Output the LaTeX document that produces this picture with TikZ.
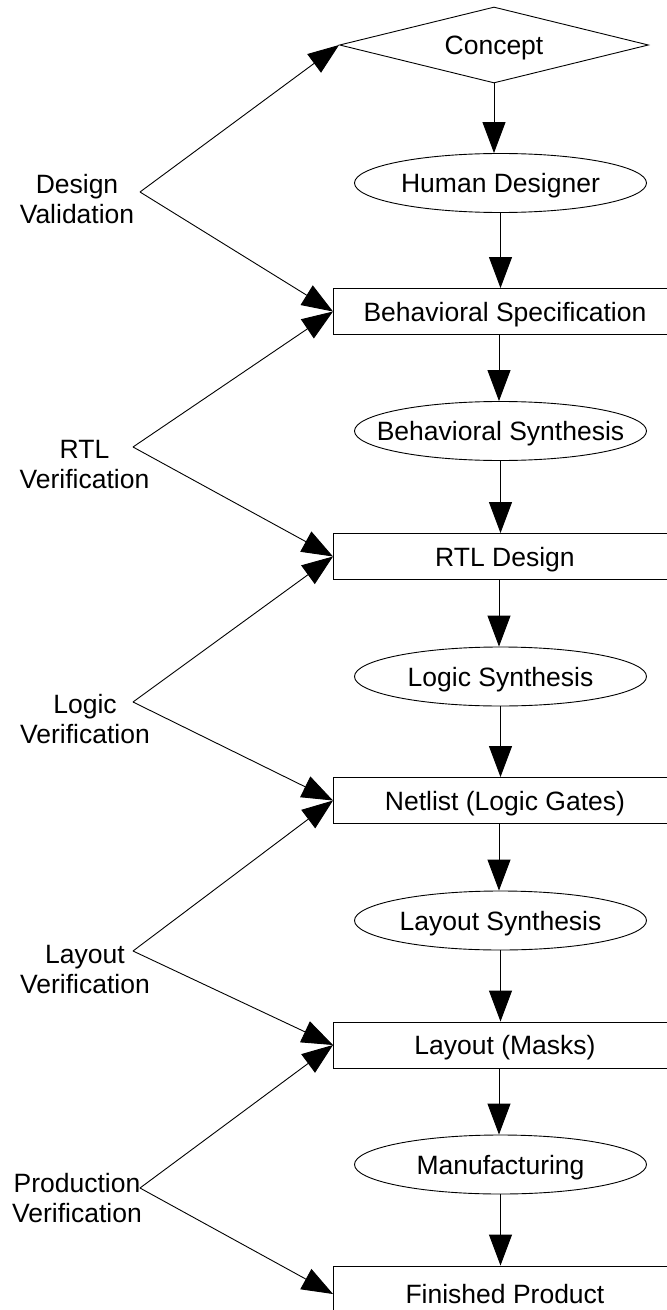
\documentclass[tikz,border=0pt]{standalone}
\usepackage{fontspec}
\setmainfont{Liberation Sans}
\usetikzlibrary{shapes.geometric,arrows.meta}
\begin{document}
\begin{tikzpicture}[x=1bp,y=-1bp,
  every node/.style={font=\fontsize{26.5bp}{30bp}\selectfont},
  capcentre/.style={text height=19bp, text depth=0bp},
  every label/.style={capcentre},
  boxnode/.style={draw, capcentre, line width=0.9bp, minimum width=343bp, minimum height=46bp, inner sep=0pt, anchor=west},
  ellnode/.style={draw, ellipse, line width=0.9bp, minimum width=292bp, minimum height=59bp, inner sep=0pt},
  decnode/.style={draw, diamond, capcentre, aspect=4.08, line width=0.9bp, minimum width=309bp, minimum height=76bp, inner sep=0pt},
  sidelabel/.style={align=center, anchor=base, inner sep=0pt},
  arr/.style={line width=0.9bp, -{Triangle[length=31bp,width=23bp]}},
]
\useasboundingbox (0,0) rectangle (666,1310);

% main column
\node[decnode] (con) at (494,45) {Concept};
\node[ellnode, label={center:Human Designer}] (hd) at (500.5,183) {};
\node[boxnode] (bs) at (333,311.5) {Behavioral Specification};
\node[ellnode, label={center:Behavioral Synthesis}] (bsy) at (500.5,431) {};
\node[boxnode] (rtl) at (333,556.5) {RTL Design};
\node[ellnode, label={center:Logic Synthesis}] (ls) at (500.5,676.5) {};
\node[boxnode] (net) at (333,800.5) {Netlist (Logic Gates)};
\node[ellnode, label={center:Layout Synthesis}] (lys) at (500.5,920.5) {};
\node[boxnode] (lay) at (333,1045) {Layout (Masks)};
\node[ellnode, label={center:Manufacturing}] (man) at (500.5,1164.5) {};
\node[boxnode, minimum height=56bp] (fp) at (333,1294) {Finished Product};

% vertical arrows
\draw[arr] (con.south) -- (con.south |- hd.north);
\draw[arr] (hd.south) -- (hd.south |- bs.north);
\draw[arr] (bs.south -| bsy.north) ++(-1.5,0) coordinate (b1) -- (b1 |- bsy.north);
\draw[arr] (bsy.south) -- (bsy.south |- rtl.north);
\draw[arr] (rtl.south -| ls.north) ++(-1.5,0) coordinate (b2) -- (b2 |- ls.north);
\draw[arr] (ls.south) -- (ls.south |- net.north);
\draw[arr] (net.south -| lys.north) ++(-1.5,0) coordinate (b3) -- (b3 |- lys.north);
\draw[arr] (lys.south) -- (lys.south |- lay.north);
\draw[arr] (lay.south -| man.north) ++(-1.5,0) coordinate (b4) -- (b4 |- man.north);
\draw[arr] (man.south) -- (man.south |- fp.north);

% side labels (base anchor = baseline of the last line)
\node[sidelabel] (dvl) at (77,224) {Design\\Validation};
\node[sidelabel] (rvl) at (84.5,488) {RTL\\Verification};
\node[sidelabel] (lvl) at (85,743) {Logic\\Verification};
\node[sidelabel] (yvl) at (85,993) {Layout\\Verification};
\node[sidelabel] (pvl) at (77,1222) {Production\\Verification};

\coordinate (dv) at (140,192);
\coordinate (rv) at (133,447);
\coordinate (lv) at (133,702);
\coordinate (yv) at (133,951);
\coordinate (pv) at (140,1188);

\draw[arr] (dv) -- (con.west);
\draw[arr] (dv) -- (bs.west);
\draw[arr] (rv) -- (bs.west);
\draw[arr] (rv) -- (rtl.west);
\draw[arr] (lv) -- (rtl.west);
\draw[arr] (lv) -- (net.west);
\draw[arr] (yv) -- (net.west);
\draw[arr] (yv) -- (lay.west);
\draw[arr] (pv) -- (lay.west);
\draw[arr] (pv) -- (fp.west);
\end{tikzpicture}
\end{document}
